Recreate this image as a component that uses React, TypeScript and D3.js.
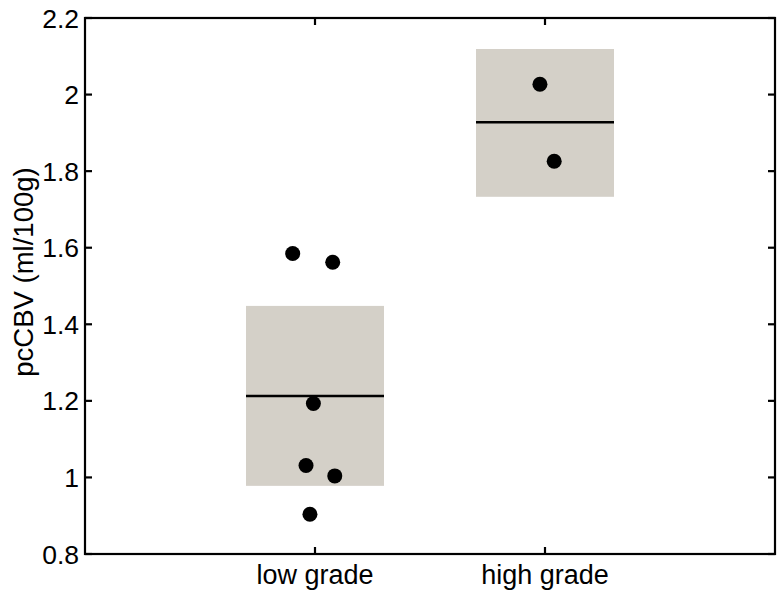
import React from "react";
import * as d3 from "d3";

const categories = ["low grade", "high grade"];
const catPos = [1, 2];

// shaded band per group: lower, upper, mean
const bandLow = [0.978, 1.733];
const bandHigh = [1.448, 2.119];
const bandMean = [1.213, 1.928];

// individual points: group index, x jitter, value
const ptGroup = [0, 0, 0, 0, 0, 0, 1, 1];
const ptJitter = [-0.097, 0.077, -0.007, -0.039, 0.086, -0.022, -0.022, 0.04];
const ptValue = [1.585, 1.562, 1.193, 1.031, 1.004, 0.904, 2.027, 1.826];

const yTicks = [0.8, 1, 1.2, 1.4, 1.6, 1.8, 2, 2.2];

const W = 784;
const H = 595;
const left = 85;
const right = 775;
const top = 18;
const bottom = 554;

export default function App() {
  const x = d3.scaleLinear().domain([0, 3]).range([left, right]);
  const y = d3.scaleLinear().domain([0.8, 2.2]).range([bottom, top]);
  const halfW = 0.3;
  const font = "'Liberation Sans', Arial, Helvetica, sans-serif";

  return (
    <svg
      width={W}
      height={H}
      style={{ position: "absolute", left: 0, top: 0, background: "#fff" }}
    >
      {/* bands */}
      {catPos.map((c, i) => (
        <g key={"band" + i}>
          <rect
            x={x(c - halfW)}
            y={y(bandHigh[i])}
            width={x(c + halfW) - x(c - halfW)}
            height={y(bandLow[i]) - y(bandHigh[i])}
            fill="#d4d0c8"
          />
          <line
            x1={x(c - halfW)}
            x2={x(c + halfW)}
            y1={y(bandMean[i])}
            y2={y(bandMean[i])}
            stroke="#000"
            strokeWidth={2.5}
          />
        </g>
      ))}

      {/* points */}
      {ptValue.map((v, i) => (
        <circle
          key={"pt" + i}
          cx={x(catPos[ptGroup[i]] + ptJitter[i])}
          cy={y(v)}
          r={7.5}
          fill="#000"
        />
      ))}

      {/* axes box */}
      <rect
        x={left}
        y={top}
        width={right - left}
        height={bottom - top}
        fill="none"
        stroke="#000"
        strokeWidth={2.2}
      />

      {/* y ticks */}
      {yTicks.map((t) => (
        <g key={"yt" + t}>
          <line x1={left} x2={left + 7} y1={y(t)} y2={y(t)} stroke="#000" strokeWidth={2.2} />
          <line x1={right} x2={right - 7} y1={y(t)} y2={y(t)} stroke="#000" strokeWidth={2.2} />
          <text
            x={left - 6}
            y={y(t)}
            dy="0.36em"
            textAnchor="end"
            fontFamily={font}
            fontSize={26.5}
          >
            {d3.format("~g")(t)}
          </text>
        </g>
      ))}

      {/* x ticks */}
      {catPos.map((c, i) => (
        <g key={"xt" + i}>
          <line x1={x(c)} x2={x(c)} y1={bottom} y2={bottom - 7} stroke="#000" strokeWidth={2.2} />
          <line x1={x(c)} x2={x(c)} y1={top} y2={top + 7} stroke="#000" strokeWidth={2.2} />
          <text x={x(c)} y={584} textAnchor="middle" fontFamily={font} fontSize={27}>
            {categories[i]}
          </text>
        </g>
      ))}

      <text
        transform={`translate(33,272) rotate(-90)`}
        textAnchor="middle"
        fontFamily={font}
        fontSize={27.5}
      >
        pcCBV (ml/100g)
      </text>
    </svg>
  );
}
